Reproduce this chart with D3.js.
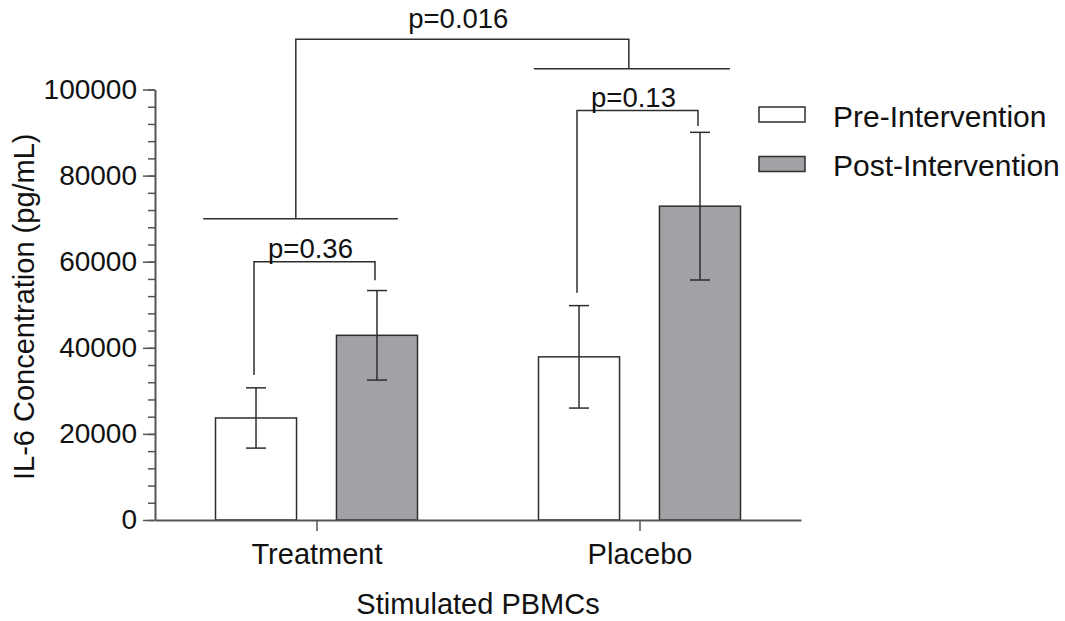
<!DOCTYPE html>
<html>
<head>
<meta charset="utf-8">
<script src="https://cdn.jsdelivr.net/npm/d3@7"></script>
<style>
  html, body { margin: 0; padding: 0; background: #fff; }
  svg { display: block; font-family: "Liberation Sans", Arial, sans-serif; }
</style>
</head>
<body>
<svg id="chart" width="1065" height="621"></svg>
<script>
// ---- data ----
const categories = ["Treatment", "Placebo"];
const seriesNames = ["Pre-Intervention", "Post-Intervention"];
const preMeans  = [23700, 37900];
const preErrors = [7000, 11900];
const postMeans  = [42900, 72900];
const postErrors = [10400, 17150];
const yTickValues = [0, 20000, 40000, 60000, 80000, 100000];
const yMinorStep = 4000;

// significance brackets (x in category units, y in pg/mL)
const pairBrackets = [
  { label: "p=0.36", cat: 0, y: 60000, leftEnd: 33700, rightEnd: 55700 },
  { label: "p=0.13", cat: 1, y: 95100, leftEnd: 52800, rightEnd: 91500 }
];
const groupLines = [
  { x0: -0.351, x1: 0.252, y: 70000 },
  { x0: 0.673, x1: 1.280, y: 104800 }
];
const topBracket = { label: "p=0.016", x0: -0.064, x1: 0.967, y: 111700, leftEnd: 70000, rightEnd: 104800 };

// ---- layout ----
const svg = d3.select("#chart");
const plot = { left: 155, right: 801, top: 89.5, bottom: 520 };
const ink = "#2e2e2e";
const postFill = "#a2a1a6";

const x = d3.scalePoint().domain(categories).range([plot.left, plot.right]).padding(0.5);
const xc = d3.scaleLinear().domain([-0.5, 1.5]).range([plot.left, plot.right]);
const xs = d3.scaleBand().domain(seriesNames).range([-101, 101]).paddingInner(0.33);
const y = d3.scaleLinear().domain([0, 100000]).range([plot.bottom, plot.top]);

const rows = [];
categories.forEach((c, i) => {
  rows.push({ cat: c, series: seriesNames[0], mean: preMeans[i], err: preErrors[i] });
  rows.push({ cat: c, series: seriesNames[1], mean: postMeans[i], err: postErrors[i] });
});
const fillOf = s => s === seriesNames[0] ? "#ffffff" : postFill;
const barCenter = d => x(d.cat) + xs(d.series) + xs.bandwidth() / 2;

// ---- bars ----
svg.append("g").selectAll("rect").data(rows).join("rect")
  .attr("x", d => x(d.cat) + xs(d.series))
  .attr("y", d => y(d.mean))
  .attr("width", xs.bandwidth())
  .attr("height", d => y(0) - y(d.mean))
  .attr("fill", d => fillOf(d.series))
  .attr("stroke", ink)
  .attr("stroke-width", 1.5);

// ---- error bars ----
const eb = svg.append("g").attr("stroke", ink).attr("stroke-width", 1.5).attr("fill", "none");
rows.forEach(d => {
  const cx = barCenter(d);
  eb.append("line").attr("x1", cx).attr("x2", cx).attr("y1", y(d.mean - d.err)).attr("y2", y(d.mean + d.err));
  [d.mean - d.err, d.mean + d.err].forEach(v => {
    eb.append("line").attr("x1", cx - 10).attr("x2", cx + 10).attr("y1", y(v)).attr("y2", y(v));
  });
});

// ---- y axis ----
const yMinor = d3.range(0, 100000 + 1, yMinorStep);
svg.append("g").attr("transform", `translate(${plot.left},0)`)
  .call(d3.axisLeft(y).tickValues(yMinor).tickSize(7).tickFormat(""))
  .call(g => g.select(".domain").remove())
  .call(g => g.selectAll("line").attr("stroke", "#555").attr("stroke-width", 1.5));

svg.append("g").attr("transform", `translate(${plot.left},0)`)
  .call(d3.axisLeft(y).tickValues(yTickValues).tickSize(12).tickSizeOuter(0).tickPadding(6).tickFormat(d3.format("d")))
  .call(g => g.select(".domain").attr("stroke", "#555").attr("stroke-width", 2))
  .call(g => g.selectAll(".tick line").attr("stroke", "#555").attr("stroke-width", 1.5))
  .call(g => g.selectAll("text").attr("fill", "#111").style("font-size", "28px")
    .style("font-family", "'Liberation Sans', Arial, sans-serif"));

// ---- x axis ----
svg.append("g").attr("transform", `translate(0,${plot.bottom})`)
  .call(d3.axisBottom(x).tickSize(11).tickSizeOuter(0).tickPadding(12))
  .call(g => g.select(".domain").attr("stroke", "#555").attr("stroke-width", 2))
  .call(g => g.selectAll(".tick line").attr("stroke", "#555").attr("stroke-width", 1.5))
  .call(g => g.selectAll("text").attr("fill", "#111").style("font-size", "29px")
    .style("font-family", "'Liberation Sans', Arial, sans-serif"));

// ---- axis titles ----
svg.append("text")
  .attr("x", (plot.left + plot.right) / 2).attr("y", 614)
  .attr("text-anchor", "middle").attr("fill", "#111").style("font-size", "29px")
  .text("Stimulated PBMCs");

svg.append("text")
  .attr("transform", `translate(34,${(plot.top + plot.bottom) / 2 + 2}) rotate(-90)`)
  .attr("text-anchor", "middle").attr("fill", "#111").style("font-size", "29px")
  .text("IL-6 Concentration (pg/mL)");

// ---- significance annotations ----
const ann = svg.append("g").attr("stroke", ink).attr("stroke-width", 1.5).attr("fill", "none");
const annText = svg.append("g").attr("fill", "#111").style("font-size", "27.5px").attr("text-anchor", "middle");

pairBrackets.forEach(b => {
  const c = categories[b.cat];
  const xl = x(c) + xs(seriesNames[0]) + xs.bandwidth() / 2 - 2;
  const xr = x(c) + xs(seriesNames[1]) + xs.bandwidth() / 2 - 2;
  ann.append("path").attr("d",
    `M${xl},${y(b.leftEnd)}V${y(b.y)}H${xr}V${y(b.rightEnd)}`);
  annText.append("text").attr("x", (xl + xr) / 2 - 4).attr("y", y(b.y) - 4).text(b.label);
});

groupLines.forEach(g => {
  ann.append("line").attr("x1", xc(g.x0)).attr("x2", xc(g.x1)).attr("y1", y(g.y)).attr("y2", y(g.y));
});

ann.append("path").attr("d",
  `M${xc(topBracket.x0)},${y(topBracket.leftEnd)}V${y(topBracket.y)}H${xc(topBracket.x1)}V${y(topBracket.rightEnd)}`);
annText.append("text")
  .attr("x", (xc(topBracket.x0) + xc(topBracket.x1)) / 2 - 4)
  .attr("y", y(topBracket.y) - 11)
  .text(topBracket.label);

// ---- legend ----
const legend = svg.append("g").attr("transform", "translate(759,107)");
seriesNames.forEach((s, i) => {
  const row = legend.append("g").attr("transform", `translate(0,${i * 49.5})`);
  row.append("rect").attr("width", 46).attr("height", 15)
    .attr("fill", fillOf(s)).attr("stroke", ink).attr("stroke-width", 1.5);
  row.append("text").attr("x", 74).attr("y", 19.5)
    .attr("fill", "#111").style("font-size", "30px").text(s);
});
</script>
</body>
</html>
